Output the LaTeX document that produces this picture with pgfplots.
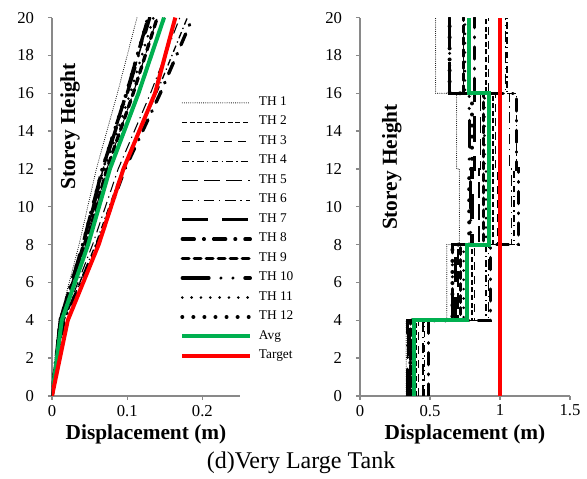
\documentclass[border=0pt]{standalone}
\usepackage{fontspec}
\setmainfont{Liberation Serif}
\usepackage{pgfplots}
\pgfplotsset{compat=1.18}

\definecolor{avggreen}{RGB}{0,176,80}
\definecolor{axisgray}{RGB}{137,137,137}

% line styles of the twelve time histories, the average and the target
\pgfplotsset{
  th1/.style={black, line width=0.8pt, line cap=round, dash pattern=on 0pt off 1.6pt},
  th2/.style={black, line width=0.8pt, dash pattern=on 3.7pt off 2pt},
  th3/.style={black, line width=0.9pt, dash pattern=on 6pt off 4.5pt},
  th4/.style={black, line width=1pt, dash pattern=on 5pt off 2.5pt on 1pt off 2.5pt},
  th5/.style={black, line width=1.1pt, dash pattern=on 12pt off 4.5pt},
  th6/.style={black, line width=0.8pt, dash pattern=on 8pt off 3.5pt on 1pt off 3.5pt},
  th7/.style={black, line width=2.5pt, dash pattern=on 19pt off 11pt},
  th8/.style={black, line width=2.5pt, line cap=round, dash pattern=on 9pt off 7pt on 0.5pt off 7pt},
  th9/.style={black, line width=2.5pt, line cap=round, dash pattern=on 5pt off 4pt},
  th10/.style={black, line width=2.5pt, line cap=round, dash pattern=on 20pt off 9pt on 0pt off 9pt on 0pt off 9pt},
  th11/.style={black, line width=2.2pt, line cap=round, dash pattern=on 0pt off 7pt},
  th12/.style={black, line width=3pt, line cap=round, dash pattern=on 0pt off 8.3pt},
  avg/.style={avggreen, line width=3pt},
  target/.style={red, line width=3pt},
  profile/.style={
    scale only axis, height=283.8pt,
    ymin=0, ymax=20, ytick={0,2,...,20},
    axis lines=left,
    axis line style={axisgray, line width=1.1pt, -},
    tick style={axisgray, line width=1pt},
    major tick length=3pt, tick align=outside,
    ticklabel style={font=\rmfamily\fontsize{12.5}{14}\selectfont, black},
    xticklabel style={yshift=-2.5pt, inner sep=1pt},
    yticklabel style={xshift=-7pt},
    /pgf/number format/assume math mode=true,
    clip mode=individual,
    xlabel style={font=\bfseries\fontsize{16}{18}\selectfont,
      at={(axis description cs:0.5,0)}, anchor=base, yshift=-33pt, inner sep=1pt},
  },
}

\begin{document}
\begin{tikzpicture}
\path[use as bounding box] (-39pt,-62.25pt) rectangle (401.25pt,297pt);

% ---------------- storey displacement profiles ----------------
\begin{axis}[profile,
  at={(0pt,0pt)}, anchor=south west, width=141pt,
  xmin=0, xmax=0.25, xtick={0,0.1,0.2}, xticklabels={0,0.1,0.2},
  xlabel={Displacement (m)},
  legend style={at={(0.681,0.793)}, anchor=north west, draw=none, fill=none,
    inner sep=0pt, font=\fontsize{10}{12}\selectfont,
    row sep=4.6pt, column sep=5pt,
    nodes={inner sep=0pt, text height=7pt, text depth=3pt}},
  legend cell align=left,
  legend image code/.code={\draw[#1] (0pt,0pt) -- (51pt,0pt);},
]
\addplot[th1]  coordinates {(0,0) (0.0098,4) (0.036,8) (0.059,12) (0.087,16) (0.113,20)};
\addplot[th2]  coordinates {(0,0) (0.0122,4) (0.045,8) (0.073,12) (0.108,16) (0.140,20)};
\addplot[th3]  coordinates {(0,0) (0.013,4) (0.048,8) (0.078,12) (0.116,16) (0.150,20)};
\addplot[th4]  coordinates {(0,0) (0.016,4) (0.058,8) (0.094,12) (0.139,16) (0.180,20)};
\addplot[th5]  coordinates {(0,0) (0.011,4) (0.042,8) (0.068,12) (0.100,16) (0.130,20)};
\addplot[th6]  coordinates {(0,0) (0.015,4) (0.054,8) (0.088,12) (0.131,16) (0.170,20)};
\addplot[th7]  coordinates {(0,0) (0.011,4) (0.041,8) (0.067,12) (0.099,16) (0.128,20)};
\addplot[th8]  coordinates {(0,0) (0.016,4) (0.060,8) (0.097,12) (0.144,16) (0.187,20)};
\addplot[th9]  coordinates {(0,0) (0.012,4) (0.045,8) (0.073,12) (0.108,16) (0.140,20)};
\addplot[th10] coordinates {(0,0) (0.011,4) (0.042,8) (0.068,12) (0.100,16) (0.130,20)};
\addplot[th11] coordinates {(0,0) (0.012,4) (0.043,8) (0.070,12) (0.104,16) (0.135,20)};
\addplot[th12] coordinates {(0,0) (0.011,4) (0.041,8) (0.067,12) (0.099,16) (0.128,20)};
\addplot[avg]    coordinates {(0,0) (0.013,4) (0.048,8) (0.077,12) (0.115,16) (0.149,20)};
\addplot[target] coordinates {(0,0) (0.021,4) (0.062,8) (0.095,12) (0.137,16) (0.164,20)};
\legend{TH 1,TH 2,TH 3,TH 4,TH 5,TH 6,TH 7,TH 8,TH 9,TH 10,TH 11,TH 12,Avg,Target}
\node[rotate=90, font=\bfseries\fontsize{16}{18}\selectfont]
  at (rel axis cs:0.096,0.713) {Storey Height};
\end{axis}

% ---------------- storey-wise values ----------------
\begin{axis}[profile,
  at={(231pt,0pt)}, anchor=south west, width=157.5pt,
  xmin=0, xmax=1.5, xtick={0,0.5,1,1.5}, xticklabels={0,0.5,1,1.5},
  xlabel={Displacement (m)},
]
\addplot[th1]  coordinates {(0.33,0) (0.33,4) (0.62,4) (0.62,8) (0.71,8) (0.71,12) (0.69,12) (0.69,16) (0.54,16) (0.54,20)};
\addplot[th2]  coordinates {(0.40,0) (0.40,4) (0.80,4) (0.80,8) (0.95,8) (0.95,12) (0.95,12) (0.95,16) (0.90,16) (0.90,20)};
\addplot[th3]  coordinates {(0.42,0) (0.42,4) (0.82,4) (0.82,8) (0.98,8) (0.98,12) (0.97,12) (0.97,16) (0.92,16) (0.92,20)};
\addplot[th4]  coordinates {(0.46,0) (0.46,4) (0.90,4) (0.90,8) (1.10,8) (1.10,12) (1.12,12) (1.12,16) (1.05,16) (1.05,20)};
\addplot[th5]  coordinates {(0.38,0) (0.38,4) (0.70,4) (0.70,8) (0.85,8) (0.85,12) (0.86,12) (0.86,16) (0.74,16) (0.74,20)};
\addplot[th6]  coordinates {(0.45,0) (0.45,4) (0.92,4) (0.92,8) (1.08,8) (1.08,12) (1.07,12) (1.07,16) (1.04,16) (1.04,20)};
\addplot[th7]  coordinates {(0.35,0) (0.35,4) (0.68,4) (0.68,8) (0.80,8) (0.80,12) (0.82,12) (0.82,16) (0.64,16) (0.64,20)};
\addplot[th8]  coordinates {(0.49,0) (0.49,4) (0.93,4) (0.93,8) (1.13,8) (1.13,12) (1.12,12) (1.12,16) (0.82,16) (0.82,20)};
\addplot[th9]  coordinates {(0.36,0) (0.36,4) (0.72,4) (0.72,8) (0.88,8) (0.88,12) (0.88,12) (0.88,16) (0.74,16) (0.74,20)};
\addplot[th10] coordinates {(0.34,0) (0.34,4) (0.66,4) (0.66,8) (0.79,8) (0.79,12) (0.78,12) (0.78,16) (0.64,16) (0.64,20)};
\addplot[th11] coordinates {(0.37,0) (0.37,4) (0.74,4) (0.74,8) (0.90,8) (0.90,12) (0.89,12) (0.89,16) (0.75,16) (0.75,20)};
\addplot[th12] coordinates {(0.36,0) (0.36,4) (0.66,4) (0.66,8) (0.78,8) (0.78,12) (0.80,12) (0.80,16) (0.64,16) (0.64,20)};
\addplot[avg]    coordinates {(0.386,0) (0.386,4) (0.764,4) (0.764,8) (0.92,8) (0.92,16) (0.78,16) (0.78,20)};
\addplot[target] coordinates {(1,0) (1,20)};
\node[rotate=90, font=\bfseries\fontsize{16}{18}\selectfont]
  at (rel axis cs:0.152,0.605) {Storey Height};
\end{axis}

\node[font=\fontsize{18}{20}\selectfont, anchor=base] at (186.75pt,-54.75pt) {(d)Very Large Tank};
\end{tikzpicture}
\end{document}
